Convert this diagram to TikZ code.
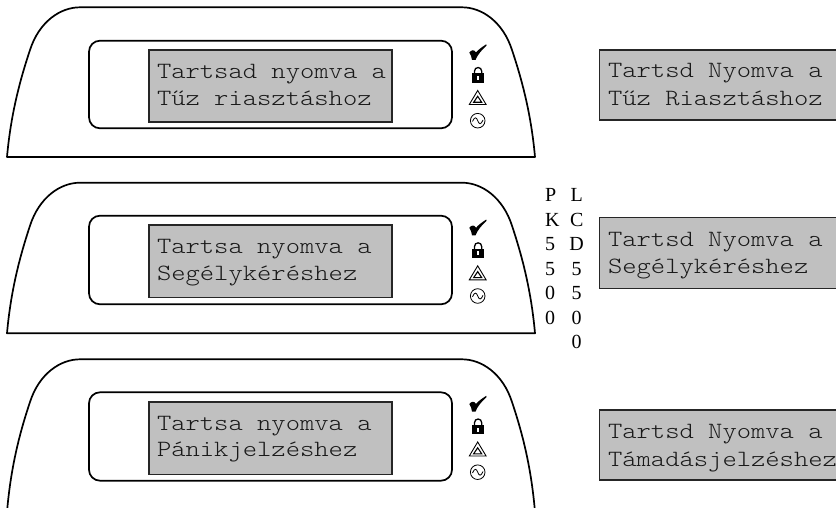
\documentclass[tikz,border=0pt]{standalone}
\usepackage{fontspec}
\newfontfamily\lcdfont[FakeStretch=1.17]{Latin Modern Mono Light}
\setmainfont{Liberation Serif}
\definecolor{lcdgray}{HTML}{C0C0C0}
\tikzset{
  x=1pt,y=-1pt,
  shell/.style={draw=black,line width=1.7pt,line join=round},
  bezel/.style={draw=black,line width=1.7pt,rounded corners=11pt},
  lcdbox/.style={draw=black!85,fill=lcdgray,line width=1.7pt},
  lcdtext/.style={anchor=base west,inner sep=0pt,outer sep=0pt,text=black!90,font=\lcdfont\fontsize{23.3}{28}\selectfont},
  sidetext/.style={inner sep=0pt,font=\fontsize{20}{24}\selectfont},
  pics/keyicons/.style={code={
    \fill[black] (469.3,52.5) .. controls (471.5,49.5) and (474.5,49.5) .. (476,52.5)
      .. controls (478.5,49.5) and (482,47) .. (486.2,44.3) -- (486.6,45.6)
      .. controls (481.5,50) and (477.5,55) .. (475.5,60) -- (472,60)
      .. controls (471.7,57) and (470.7,54.5) .. (469.3,52.5) -- cycle;
    \draw[line width=1.3pt] (474.4,74) -- (474.4,71.5) .. controls (474.4,66.2) and (481.8,66.2) .. (481.8,71.5) -- (481.8,74);
    \fill[black] (472,73.5) rectangle (484.2,82.8);
    \fill[white] (477.2,76) rectangle (479,80);
    \draw[line width=.9pt,line join=miter] (477.7,90.5) -- (469.3,104.5) -- (486.1,104.5) -- cycle;
    \draw[line width=1.1pt] (477.7,96.3) -- (473.7,102.3) -- (481.7,102.3) -- cycle;
    \draw[line width=.8pt] (477.7,120.7) circle[radius=7.3];
    \draw[line width=.8pt] (472.5,121.5) .. controls (474.5,116.5) and (476.5,117) .. (477.7,120.7)
      .. controls (479,124.5) and (481,125) .. (483,120);
  }}
}
\begin{document}
\begin{tikzpicture}
\useasboundingbox (0,0) rectangle (836,508);
\clip (0,0) rectangle (836,508);
% keypad 1
\draw[shell] (7,157) .. controls (11,112) and (21,77) .. (30,50) .. controls (39,22) and (60,7.3) .. (80,7.3)
  -- (462,7.3) .. controls (482,7.3) and (503,22) .. (512,50) .. controls (521,77) and (531,112) .. (535,157) -- cycle;
\draw[bezel] (89,40.7) rectangle (452,128.3);
\node[lcdbox,anchor=north west,minimum width=243pt,minimum height=72.3pt,inner sep=0pt] (lcdA) at (148,49) {};
\node[lcdtext] (a1) at (157,78.3) {Tartsad nyomva a};
\node[lcdtext] (a2) at (157,106) {Tűz riasztáshoz};
\pic at (0,0) {keyicons};
\node[lcdbox,anchor=north west,minimum width=250pt,minimum height=70pt,inner sep=0pt] (lcdD) at (598.7,49) {};
\node[lcdtext] (d1) at (608,78) {Tartsd Nyomva a};
\node[lcdtext] (d2) at (608,106) {Tűz Riasztáshoz};
% keypad 2
\draw[shell] (7,333.3) .. controls (11,288) and (21,253) .. (30,225.7) .. controls (39,197.7) and (60,182.7) .. (80,182.7)
  -- (462,182.7) .. controls (482,182.7) and (503,197.7) .. (512,225.7) .. controls (521,253) and (531,288) .. (535,333.3) -- cycle;
\draw[bezel] (89,215.7) rectangle (452,304.3);
\node[lcdbox,anchor=north west,minimum width=243pt,minimum height=72.3pt,inner sep=0pt] (lcdB) at (148,224.3) {};
\node[lcdtext] (b1) at (157,253.3) {Tartsa nyomva a};
\node[lcdtext] (b2) at (157,280) {Segélykéréshez};
\pic at (0,175.3) {keyicons};
\node[lcdbox,anchor=north west,minimum width=250pt,minimum height=71pt,inner sep=0pt] (lcdE) at (598.7,216.7) {};
\node[lcdtext] (e1) at (608,246.7) {Tartsd Nyomva a};
\node[lcdtext] (e2) at (608,273) {Segélykéréshez};
% side labels
\foreach \ch [count=\i from 0] in {P,K,5,5,0,0}
  \node[sidetext,anchor=base west] (pk\i) at (545,{201.7+24.5*\i}) {\ch};
\foreach \ch [count=\i from 0] in {L,C,D,5,5,0,0}
  \node[sidetext,anchor=base] (lc\i) at (576.7,{201.7+24.5*\i}) {\ch};
% keypad 3
\draw[shell] (7,512) .. controls (11,464) and (21,429) .. (30,402) .. controls (39,374) and (60,359.3) .. (80,359.3)
  -- (462,359.3) .. controls (482,359.3) and (503,374) .. (512,402) .. controls (521,429) and (531,464) .. (535,512);
\draw[bezel] (89,392.3) rectangle (452,480.7);
\node[lcdbox,anchor=north west,minimum width=243pt,minimum height=72.5pt,inner sep=0pt] (lcdC) at (148,401) {};
\node[lcdtext] (c1) at (157,430) {Tartsa nyomva a};
\node[lcdtext] (c2) at (157,456.7) {Pánikjelzéshez};
\pic at (0,351.5) {keyicons};
\node[lcdbox,anchor=north west,minimum width=250pt,minimum height=70pt,inner sep=0pt] (lcdF) at (598.7,409.3) {};
\node[lcdtext] (f1) at (608,438.3) {Tartsd Nyomva a};
\node[lcdtext] (f2) at (608,466) {Támadásjelzéshez};
\end{tikzpicture}
\end{document}
